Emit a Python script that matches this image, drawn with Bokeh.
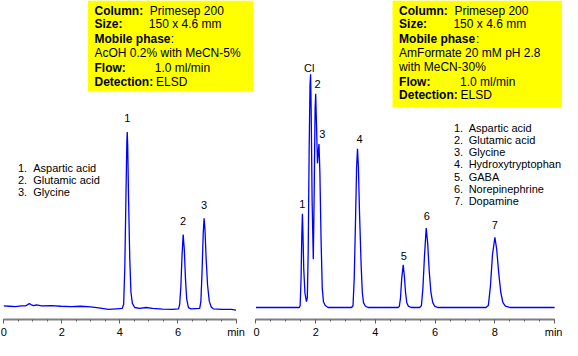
from bokeh.plotting import figure
from bokeh.layouts import row
from bokeh.models import Range1d, FixedTicker, Label, BoxAnnotation
from bokeh.embed import file_html
from bokeh.resources import INLINE

# ---------------- data ----------------
left_time = [0.00, 0.20, 0.40, 0.60, 0.75, 0.88, 0.95, 1.02, 1.13, 1.30, 1.64, 1.97, 2.31, 2.65,
             3.00, 3.33, 3.61, 3.89, 4.08, 4.13, 4.17, 4.21, 4.24, 4.254, 4.27, 4.30, 4.34, 4.38,
             4.43, 4.51, 4.68, 4.90, 5.13, 5.47, 5.81, 6.02, 6.06, 6.10, 6.14, 6.18, 6.22, 6.26,
             6.30, 6.36, 6.45, 6.60, 6.75, 6.79, 6.83, 6.87, 6.90, 6.93, 6.97, 7.02, 7.08, 7.15,
             7.22, 7.50, 7.84, 8.00]
left_signal = [0.3, 0.0, -0.3, 0.3, 0.3, 2.7, 1.5, 0.7, 1.3, 0.3, 0.7, 0.0, -0.3, 0.0,
               -0.7, -2.0, -3.3, -2.7, -2.3, 2, 40, 115, 170, 180, 165, 110, 50, 15,
               3, -1.3, -2.3, -1.3, -2.3, -3.0, -3.3, -2.7, 2, 20, 52, 74, 58, 28,
               8, -1.5, -2.7, -2.5, -2.3, 5, 35, 75, 91, 80, 50, 22, 5, -1.0,
               -2.7, -3.3, -3.3, -4.0]
left_peak_ids = ["1", "2", "3"]
left_peak_times = [4.254, 6.18, 6.90]
left_peak_heights = [180, 74, 91]
left_compounds = ["Aspartic acid", "Glutamic acid", "Glycine"]

right_time = [0.00, 1.45, 1.48, 1.51, 1.535, 1.556, 1.575, 1.60, 1.64, 1.69, 1.72, 1.75, 1.78,
              1.81, 1.83, 1.85, 1.88, 1.92, 1.95, 1.98, 2.00, 2.03, 2.06, 2.085, 2.11, 2.14,
              2.18, 2.22, 2.26, 2.32, 2.42, 3.20, 3.25, 3.29, 3.33, 3.37, 3.40, 3.43, 3.47,
              3.52, 3.56, 3.60, 3.66, 3.75, 4.76, 4.80, 4.84, 4.88, 4.93, 4.97, 5.01, 5.05,
              5.10, 5.20, 5.48, 5.54, 5.59, 5.64, 5.70, 5.75, 5.80, 5.86, 5.92, 5.98, 6.08,
              7.70, 7.78, 7.85, 7.92, 8.00, 8.06, 8.13, 8.20, 8.27, 8.35, 8.50, 10.00]
right_signal = [0, 0, 2, 30, 75, 97, 75, 40, 15, 6, 10, 60, 160,
                230, 241, 200, 110, 50, 120, 205, 221, 185, 149, 160, 169, 140,
                70, 20, 6, 2, 0, 0, 2, 30, 85, 145, 164, 145, 95,
                45, 16, 5, 1.5, 0, 0, 1, 10, 30, 44, 32, 15, 5,
                1.5, 0, 0, 2, 20, 52, 82, 66, 38, 15, 5, 1.5, 0,
                0, 2, 22, 55, 72.6, 60, 35, 15, 5, 1.5, 0, 0]
right_peak_ids = ["1", "Cl", "2", "3", "4", "5", "6", "7"]
right_peak_times = [1.556, 1.83, 2.00, 2.11, 3.40, 4.93, 5.70, 8.00]
right_peak_heights = [97, 241, 221, 169, 164, 44, 82, 72.6]
right_compounds = ["Aspartic acid", "Glutamic acid", "Glycine", "Hydroxytryptophan",
                   "GABA", "Norepinephrine", "Dopamine"]

left_ticks = [0, 2, 4, 6, 8]
right_ticks = [0, 2, 4, 6, 8, 10]

left_conditions = [("Column:", "Primesep 200"), ("Size:", "150 x 4.6 mm"),
                   ("Mobile phase", ":"), ("", "AcOH 0.2% with  MeCN-5%"),
                   ("Flow:", "1.0 ml/min"), ("Detection:", "ELSD")]
right_conditions = [("Column:", "Primesep 200"), ("Size:", "150 x 4.6 mm"),
                    ("Mobile phase", ":"), ("", "AmFormate 20 mM pH 2.8"),
                    ("", "with MeCN-30%"), ("Flow:", "1.0 ml/min"), ("Detection:", "ELSD")]

# ---------------- layout helpers (reference pixel -> data) ----------------
FONT = "Liberation Sans"
SX = 562 / 572.0
FRAME_H = 320
SY = FRAME_H / (331.7 - 2.0)
WL = 253
WR = 309
RB = 5 + WL / SX  # reference x of the border between the panels

def dxl(rx): return (rx - 8.3) / 29.55
def dyl(ry): return 318.0 - ry
def dxr(rx): return (rx - 265.0) / 30.4
def dyr(ry): return 319.3 - ry


def make_fig(width, xr, yr, ticks, last):
    p = figure(width=width, height=340, x_range=xr, y_range=yr,
               output_backend="svg", toolbar_location=None,
               y_axis_location=None, min_border_left=0, min_border_right=0,
               min_border_top=0, min_border_bottom=20)
    p.outline_line_color = None
    p.xgrid.visible = False
    p.ygrid.visible = False
    ax = p.xaxis[0]
    minor = [i * 0.5 for i in range(int(last * 2) + 1)]
    ax.ticker = FixedTicker(ticks=ticks, minor_ticks=minor)
    ax.bounds = (0, last)
    ax.major_label_overrides = {last: "min"}
    ax.axis_line_color = "#808080"
    ax.axis_line_width = 2
    ax.major_tick_line_color = "#606060"
    ax.minor_tick_line_color = "#606060"
    ax.major_tick_in = 0
    ax.major_tick_out = 4
    ax.minor_tick_in = 0
    ax.minor_tick_out = 2
    ax.major_label_standoff = 2
    ax.major_label_text_font = FONT
    ax.major_label_text_font_size = "11px"
    ax.major_label_text_color = "black"
    return p


def txt(p, x, y, text, bold=False, size="12px", align="left"):
    p.add_layout(Label(x=x, y=y, text=text, text_font=FONT, text_font_size=size,
                       text_font_style="bold" if bold else "normal",
                       text_align=align, text_baseline="middle", text_color="black"))


# ---------------- left panel ----------------
pl = make_fig(WL, Range1d(dxl(5), dxl(RB)), Range1d(dyl(331.7), dyl(2)), left_ticks, 8)
pl.line(left_time, left_signal, line_color="#0000FF", line_width=1.3)

pl.add_layout(BoxAnnotation(left=dxl(94), right=dxl(RB - 0.5), top=dyl(2), bottom=dyl(96),
                            fill_color="#FFFF00", fill_alpha=1, line_color=None))
ys_l = [12.7, 26.5, 41.7, 56.7, 71.5, 86.0]
vx_l = [157, 156, 178.3, 100.7, 162, 163.3]
for (b, v), ry, vx in zip(left_conditions, ys_l, vx_l):
    if b:
        txt(pl, dxl(100.7), dyl(ry), b, bold=True)
    txt(pl, dxl(vx), dyl(ry), v)

for i, name in enumerate(left_compounds):
    ry = 175 + i * 12.5
    txt(pl, dxl(22.7), dyl(ry), f"{i + 1}.", size="11px")
    txt(pl, dxl(38.3), dyl(ry), name, size="11px")

for pid, t, h in zip(left_peak_ids, left_peak_times, left_peak_heights):
    pl.add_layout(Label(x=t, y=h, text=pid, y_offset=14 * SY, text_font=FONT,
                        text_font_size="11px", text_align="center",
                        text_baseline="middle", text_color="black"))

# ---------------- right panel ----------------
pr = make_fig(WR, Range1d(dxr(RB), dxr(577)), Range1d(dyr(331.7), dyr(2)), right_ticks, 10)
pr.line(right_time, right_signal, line_color="#0000FF", line_width=1.3)

pr.add_layout(BoxAnnotation(left=dxr(404), right=dxr(577), top=dyr(2), bottom=dyr(112),
                            fill_color="#FFFF00", fill_alpha=1, line_color=None))
ys_r = [12.7, 26.5, 41.7, 56.7, 71.0, 86.0, 100.0]
vx_r = [467, 466, 489, 410.7, 410.7, 472.7, 473.3]
for (b, v), ry, vx in zip(right_conditions, ys_r, vx_r):
    if b:
        txt(pr, dxr(410.7), dyr(ry), b, bold=True)
    txt(pr, dxr(vx), dyr(ry), v)

for i, name in enumerate(right_compounds):
    ry = 134 + i * 12.5
    txt(pr, dxr(466.5), dyr(ry), f"{i + 1}.", size="11px")
    txt(pr, dxr(481.5), dyr(ry), name, size="11px")

r_offsets = [(0, 9.5), (-1.5, 6.5), (2, 10), (3.4, 10), (2, 10.5), (0.5, 9), (0.5, 13), (0, 12.5)]
for pid, t, h, (ox, oy) in zip(right_peak_ids, right_peak_times, right_peak_heights, r_offsets):
    pr.add_layout(Label(x=t, y=h, text=pid, x_offset=ox * SX, y_offset=oy * SY,
                        text_font=FONT, text_font_size="11px", text_align="center",
                        text_baseline="middle", text_color="black"))

layout = row(pl, pr, spacing=0)
open("out.html", "w").write(file_html(layout, INLINE))
